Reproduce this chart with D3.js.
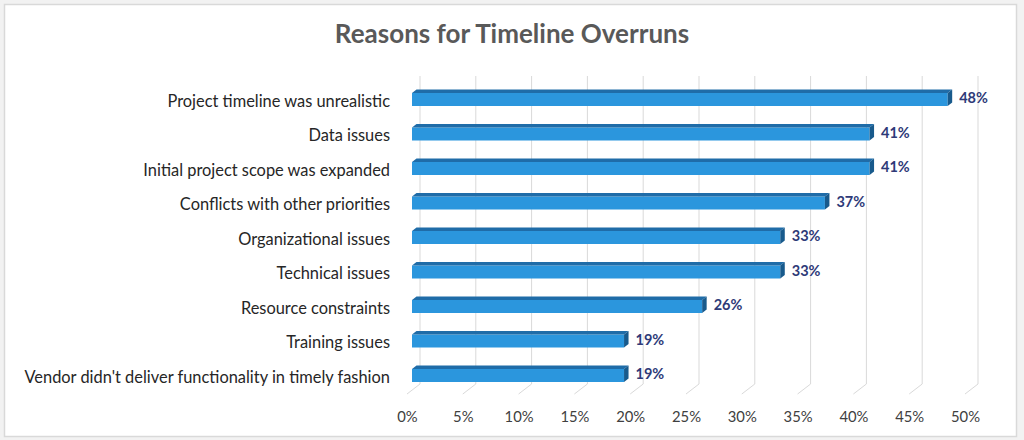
<!DOCTYPE html>
<html>
<head>
<meta charset="utf-8">
<script src="https://cdn.jsdelivr.net/npm/d3@7"></script>
<style>
  body { margin: 0; background: #f2f2f2; }
  svg { display: block; font-family: Lato, "Open Sans", sans-serif; }
</style>
</head>
<body>
<div id="chart"></div>
<script>
// data
const categories = [
  "Project timeline was unrealistic",
  "Data issues",
  "Initial project scope was expanded",
  "Conflicts with other priorities",
  "Organizational issues",
  "Technical issues",
  "Resource constraints",
  "Training issues",
  "Vendor didn't deliver functionality in timely fashion"
];
const values = [48, 41, 41, 37, 33, 33, 26, 19, 19];
const ticks = [0, 5, 10, 15, 20, 25, 30, 35, 40, 45, 50];

const w = 1024, h = 440;
const backX = 420, frontX = 407, barX = 412;  // 3d offsets of the planes
const dep = 4.5, depY = 3.5, barH = 13;

const svg = d3.select('#chart').append('svg')
  .attr('width', w).attr('height', h);

svg.append('rect')
  .attr('x', 4.5).attr('y', 4.5).attr('width', 1012).attr('height', 432)
  .attr('fill', '#fff').attr('stroke', '#d9d9d9').attr('stroke-width', 1.5);

svg.append('text')
  .attr('x', 512).attr('y', 43)
  .attr('text-anchor', 'middle')
  .attr('font-size', 26).attr('font-weight', 700)
  .attr('fill', '#595959')
  .text('Reasons for Timeline Overruns');

const x = d3.scaleLinear().domain([0, 50]).range([0, 558]);
const y = d3.scalePoint().domain(categories).range([82.25, 392.75]).padding(0.5);

// gridlines: back wall + floor
const grid = svg.append('g');
grid.selectAll('path').data(ticks).enter().append('path')
  .attr('d', d => `M${backX + x(d)},76 L${backX + x(d)},384 L${frontX + x(d)},394`)
  .attr('fill', 'none').attr('stroke', '#d9d9d9').attr('stroke-width', 1);

// tick labels through an axis
const xA = d3.axisBottom(d3.scaleLinear().domain([0, 50]).range([frontX, frontX + 558]))
  .tickValues(ticks).tickSize(0).tickPadding(0).tickFormat(d => d + '%');
const ax = svg.append('g').attr('transform', 'translate(0,411)').call(xA);
ax.select('.domain').remove();
ax.selectAll('text').attr('font-size', 14.8).attr('fill', '#404040')
  .attr('font-family', 'Lato, "Open Sans", sans-serif');

// category labels
svg.append('g').selectAll('text').data(categories).enter().append('text')
  .attr('x', 390).attr('y', d => y(d) + 7)
  .attr('text-anchor', 'end')
  .attr('font-size', 16.4).attr('fill', '#262626')
  .text(d => d);

const data = categories.map((c, i) => ({c: c, v: values[i]}));
const bars = svg.append('g').selectAll('g').data(data).enter().append('g');

bars.append('rect')
  .attr('x', barX).attr('y', d => y(d.c) - barH / 2)
  .attr('width', d => x(d.v)).attr('height', barH)
  .attr('fill', '#2b96dd');

// top face
bars.append('path')
  .attr('d', d => {
    const t = y(d.c) - barH / 2, e = barX + x(d.v);
    return `M${barX},${t} L${barX + dep},${t - depY} L${e + dep},${t - depY} L${e},${t} Z`;
  })
  .attr('fill', '#1f6ca8');

// side face
bars.append('path')
  .attr('d', d => {
    const t = y(d.c) - barH / 2, e = barX + x(d.v);
    return `M${e},${t} L${e + dep},${t - depY} L${e + dep},${t + barH - depY} L${e},${t + barH} Z`;
  })
  .attr('fill', '#185a8c');

bars.append('text')
  .attr('x', d => barX + x(d.v) + dep + 7)
  .attr('y', d => y(d.c) + 3.5)
  .attr('font-size', 14.5).attr('font-weight', 700)
  .attr('fill', '#2e3a78')
  .text(d => d.v + '%');
</script>
</body>
</html>
